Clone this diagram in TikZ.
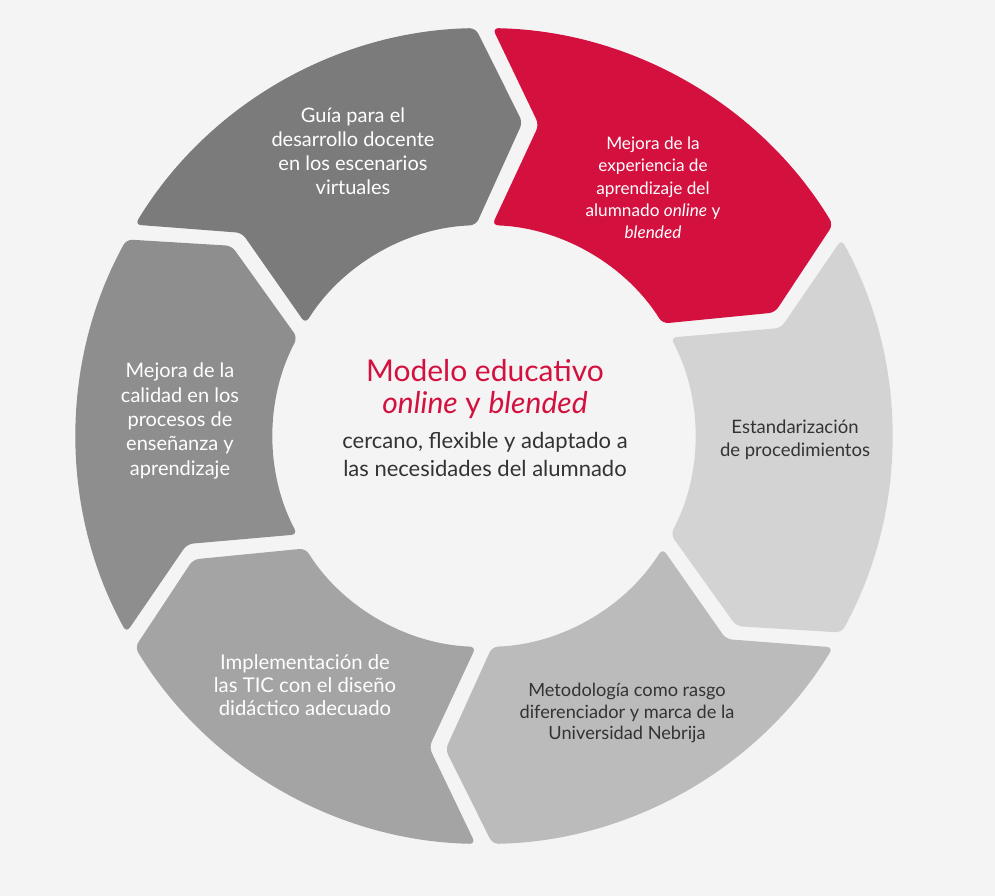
\documentclass[tikz,border=0pt]{standalone}
\usepackage{fontspec}
\setmainfont{Lato}
\usetikzlibrary{positioning}

\definecolor{fondo}{HTML}{F4F4F4}
\definecolor{rojo}{HTML}{D4103F}
\definecolor{grisA}{HTML}{7B7B7B}
\definecolor{grisB}{HTML}{8E8E8E}
\definecolor{grisC}{HTML}{A4A4A4}
\definecolor{grisD}{HTML}{BBBBBB}
\definecolor{grisE}{HTML}{D3D3D3}
\definecolor{texto}{HTML}{333333}

\tikzstyle{seg}=[rounded corners=6pt]
\tikzstyle{lbl}=[align=center, inner sep=0pt, text=white]
\tikzstyle{lbldark}=[lbl, text=texto]

\begin{document}
\begin{tikzpicture}[x=1pt, y=1pt]
      \fill[fondo] (0,0) rectangle (995,896);
      % ring of six chevron segments, clockwise
      \begin{scope}[shift={(484,460)}]
        \foreach \a/\col in {150/grisA, 90/rojo, 30/grisE, -30/grisD, -90/grisC, -150/grisB} {%
          \fill[seg, \col] (\a-1.2:408) arc[start angle=\a-1.2, end angle=\a-58.8, radius=408]
            -- (\a-60-8.5+1.5:316) -- (\a-60+2.2:211)
            arc[start angle=\a-60+2.2, end angle=\a-2.2, radius=211]
            -- (\a-8.5-1.5:316) -- cycle;
        }
      \end{scope}
      \node[lbl, font=\fontsize{20}{24}\selectfont] (guia) at (353,745)
        {Guía para el\\desarrollo docente\\en los escenarios\\virtuales};
      \node[lbl, font=\fontsize{17.2}{22.3}\selectfont] (experiencia) at (653,708)
        {Mejora de la\\experiencia de\\aprendizaje del\\alumnado \textit{online} y\\\textit{blended}};
      \node[lbldark, font=\fontsize{18.5}{23}\selectfont] (estandar) at (795,456)
        {Estandarización\\de procedimientos};
      \node[lbldark, font=\fontsize{18.2}{21.5}\selectfont] (metodologia) at (627,183)
        {Metodología como rasgo\\diferenciador y marca de la\\Universidad Nebrija};
      \node[lbl, font=\fontsize{20.3}{23}\selectfont] (tic) at (305,211)
        {Implementación de\\las TIC con el diseño\\didáctico adecuado};
      \node[lbl, font=\fontsize{20}{24.3}\selectfont] (calidad) at (180,475)
        {Mejora de la\\calidad en los\\procesos de\\enseñanza y\\aprendizaje};
      % centre
      \node[lbl, text=rojo, font=\fontsize{30}{32}\selectfont] (modelo) at (485,507)
        {Modelo educativo\\\textit{online} y \textit{blended}};
      \node[lbldark, font=\fontsize{22}{28}\selectfont] (lema) at (485,442)
        {cercano, flexible y adaptado a\\las necesidades del alumnado};
\end{tikzpicture}
\end{document}
